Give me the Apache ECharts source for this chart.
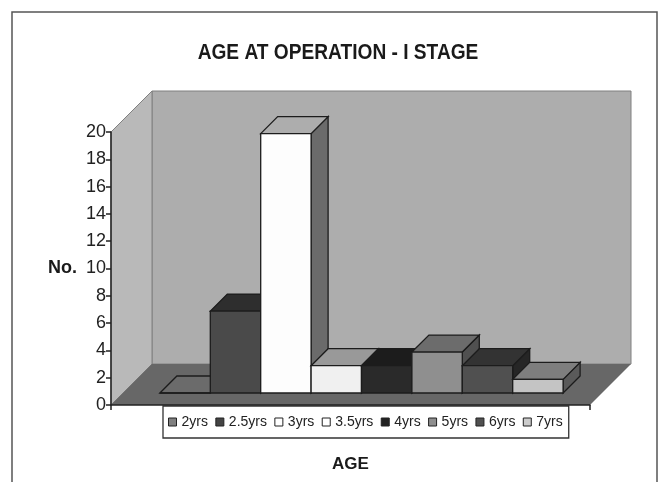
<!DOCTYPE html>
<html>
<head>
<meta charset="utf-8">
<style>
  html, body { margin: 0; padding: 0; background: #fff; }
  #chart { width: 660px; height: 482px; }
</style>
</head>
<body>
<div id="chart"></div>
<script src="https://cdn.jsdelivr.net/npm/echarts@6/dist/echarts.min.js"></script>
<script>
const ages = ['2yrs', '2.5yrs', '3yrs', '3.5yrs', '4yrs', '5yrs', '6yrs', '7yrs']
const counts = [0, 6, 19, 2, 2, 3, 2, 1]
const categories = ['']
const yTicks = { min: 0, max: 20, interval: 2 }

const frontColors = ['#7d7d7d', '#4a4a4a', '#fdfdfd', '#f0f0f0', '#2a2a2a', '#8f8f8f', '#505050', '#c4c4c4']
const topColors = ['#6b6b6b', '#2e2e2e', '#adadad', '#999999', '#1c1c1c', '#6c6c6c', '#333333', '#7e7e7e']
const sideColors = ['#5a5a5a', '#2a2a2a', '#6b6b6b', '#5a5a5a', '#161616', '#505050', '#262626', '#5a5a5a']
const legendColors = ['#808080', '#444444', '#ffffff', '#ffffff', '#222222', '#8f8f8f', '#505050', '#cccccc']

const FONT = '"Liberation Sans", sans-serif'
const WALL_DEPTH = 41 // 背面墙相对坐标轴平面的偏移
const BAR_INSET = 12 // 柱子前表面相对坐标轴平面的偏移
const BAR_SHIFT = 11
const BAR_DEPTH = 17
const BAR_WIDTH = 50.4

function poly(points, fill, stroke, width) {
  return {
    type: 'polygon',
    shape: { points },
    style: { fill, stroke: stroke || null, lineWidth: width || 0 }
  }
}

function renderWalls(params, api) {
  const bandW = api.size([1, 0])[0]
  const mid = api.coord([0, 0])
  const top = api.coord([0, yTicks.max])
  const l = mid[0] - bandW / 2
  const r = mid[0] + bandW / 2
  const b = mid[1]
  const t = top[1]
  const d = WALL_DEPTH
  return {
    type: 'group',
    children: [
      poly([[l + d, t - d], [r + d, t - d], [r + d, b - d], [l + d, b - d]], '#adadad', '#808080', 1),
      poly([[l, t], [l + d, t - d], [l + d, b - d], [l, b]], '#b9b9b9', '#808080', 1),
      poly([[l, b], [l + d, b - d], [r + d, b - d], [r, b]], '#676767')
    ]
  }
}

function renderBar(params, api) {
  const i = params.seriesIndex - 1
  const base = api.coord([api.value(0), 0])
  const head = api.coord([api.value(0), api.value(1)])
  const x0 = base[0] + BAR_SHIFT - BAR_WIDTH * ages.length / 2 + BAR_WIDTH * i
  const x1 = x0 + BAR_WIDTH
  const y0 = base[1] - BAR_INSET
  const y1 = head[1] - BAR_INSET
  const d = BAR_DEPTH
  const line = '#1c1c1c'
  return {
    type: 'group',
    children: [
      poly([[x1, y0], [x1 + d, y0 - d], [x1 + d, y1 - d], [x1, y1]], sideColors[i], line, 1.3),
      poly([[x0, y1], [x0 + d, y1 - d], [x1 + d, y1 - d], [x1, y1]], topColors[i], line, 1.3),
      poly([[x0, y0], [x1, y0], [x1, y1], [x0, y1]], frontColors[i], line, 1.3)
    ]
  }
}

const barSeries = ages.map((name, i) => ({
  name,
  type: 'custom',
  coordinateSystem: 'cartesian2d',
  clip: false,
  renderItem: renderBar,
  itemStyle: { color: legendColors[i] },
  encode: { x: 0, y: 1 },
  data: [[0, counts[i]]]
}))

const option = {
  animation: false,
  backgroundColor: '#fff',
  graphic: [
    {
      type: 'polyline',
      shape: { points: [[12, 482], [12, 12], [657, 12], [657, 482]] },
      style: { stroke: '#555', lineWidth: 1.5, fill: null }
    },
    {
      // 原图标题是窄体字，这里横向压缩
      type: 'text',
      x: 338,
      y: 53,
      scaleX: 0.87,
      style: {
        text: 'AGE AT OPERATION - I STAGE',
        align: 'center',
        verticalAlign: 'middle',
        font: 'bold 22px "Liberation Sans", sans-serif',
        fill: '#1a1a1a'
      }
    }
  ],
  legend: {
    data: ages,
    left: 163,
    top: 406,
    padding: [9, 6, 9, 5],
    itemWidth: 8,
    itemHeight: 8,
    itemGap: 7.4,
    icon: 'rect',
    backgroundColor: '#fff',
    borderColor: '#333',
    borderWidth: 1.3,
    itemStyle: { borderColor: '#222', borderWidth: 1 },
    textStyle: { fontFamily: FONT, fontSize: 14, color: '#222' },
    selectedMode: false
  },
  grid: { left: 111, right: 70, top: 132, bottom: 77 },
  xAxis: {
    type: 'category',
    data: categories,
    z: 5,
    name: 'AGE',
    nameLocation: 'middle',
    nameGap: 51,
    nameTextStyle: { fontFamily: FONT, fontSize: 17, fontWeight: 'bold', color: '#1a1a1a' },
    axisLine: { lineStyle: { color: '#222', width: 1.5 } },
    axisTick: { show: true, length: 5, lineStyle: { color: '#222', width: 1.5 } },
    axisLabel: { show: false }
  },
  yAxis: {
    type: 'value',
    min: yTicks.min,
    max: yTicks.max,
    interval: yTicks.interval,
    z: 5,
    name: 'No.',
    nameLocation: 'middle',
    nameRotate: 0,
    nameGap: 34,
    nameTextStyle: { fontFamily: FONT, fontSize: 18, fontWeight: 'bold', color: '#1a1a1a' },
    axisLine: { show: true, lineStyle: { color: '#222', width: 1.5 } },
    axisTick: { show: true, length: 5, lineStyle: { color: '#222', width: 1.5 } },
    axisLabel: { fontFamily: FONT, fontSize: 18, color: '#222', margin: 5 },
    splitLine: { show: false }
  },
  series: [
    {
      name: 'walls',
      type: 'custom',
      coordinateSystem: 'cartesian2d',
      clip: false,
      silent: true,
      renderItem: renderWalls,
      encode: { x: 0, y: 1 },
      data: [[0, 0]]
    }
  ].concat(barSeries)
}

const mychart = echarts.init(document.getElementById('chart'))
mychart.setOption(option)
</script>
</body>
</html>
